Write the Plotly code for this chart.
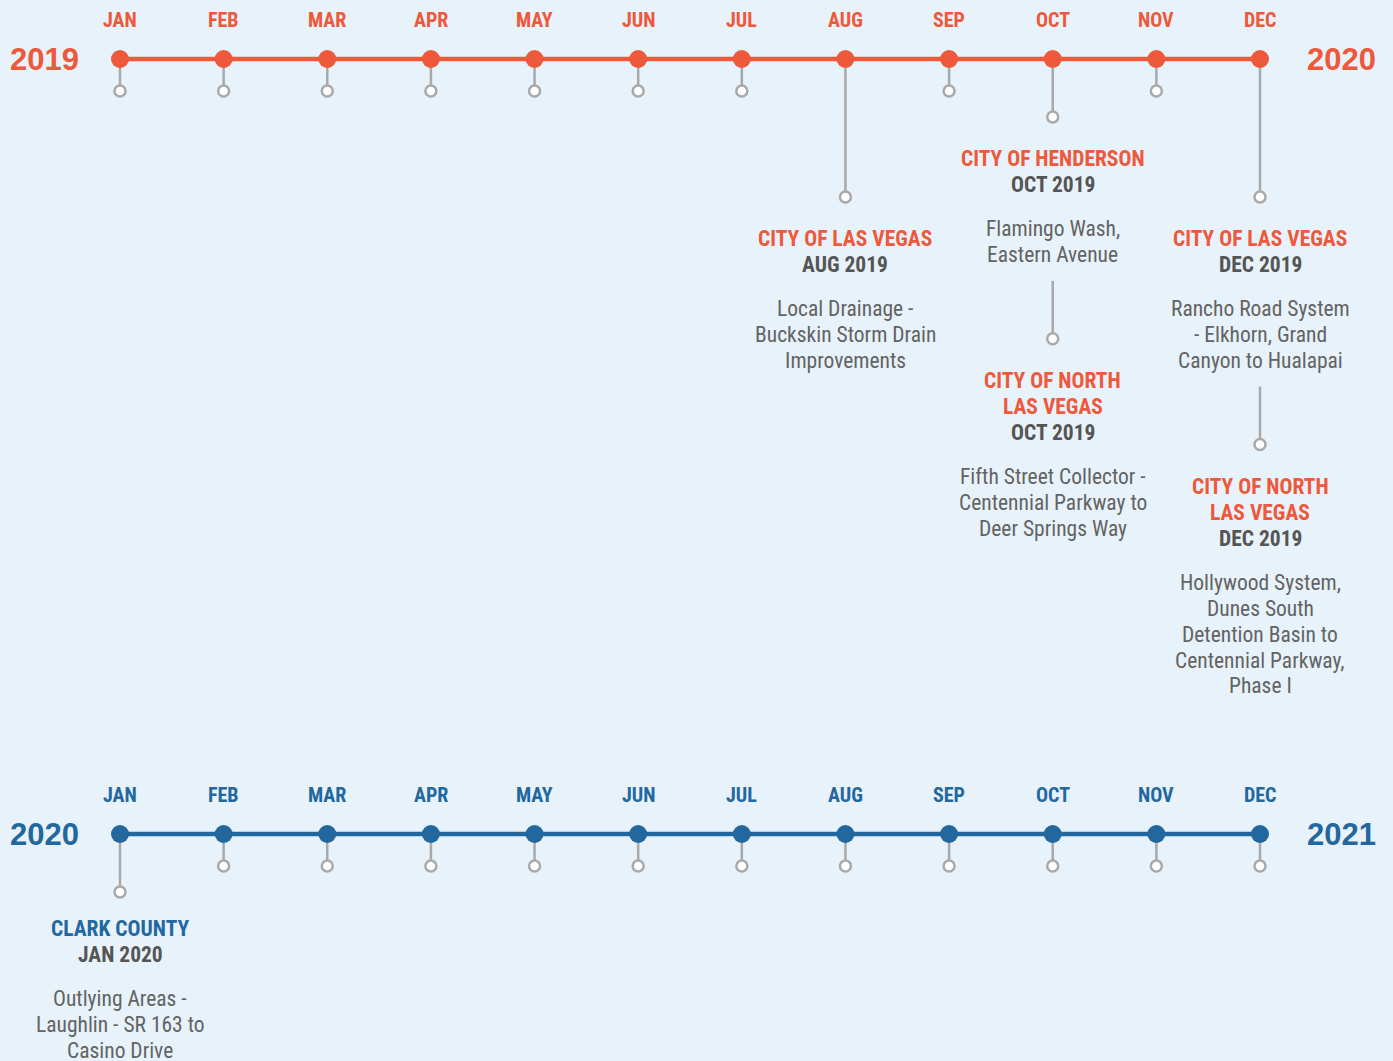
import plotly.graph_objects as go

# ---------------- data ----------------
months = ["JAN", "FEB", "MAR", "APR", "MAY", "JUN", "JUL", "AUG", "SEP", "OCT", "NOV", "DEC"]
start_years = ["2019", "2020"]
end_years = ["2020", "2021"]

event_timeline = [0, 0, 0, 0, 0, 1]
event_month = [7, 9, 9, 11, 11, 0]
event_agency = ["CITY OF LAS VEGAS", "CITY OF HENDERSON", "CITY OF NORTH<br>LAS VEGAS",
                "CITY OF LAS VEGAS", "CITY OF NORTH<br>LAS VEGAS", "CLARK COUNTY"]
event_date = ["AUG 2019", "OCT 2019", "OCT 2019", "DEC 2019", "DEC 2019", "JAN 2020"]
event_desc = [
    "Local Drainage -<br>Buckskin Storm Drain<br>Improvements",
    "Flamingo Wash,<br>Eastern Avenue",
    "Fifth Street Collector -<br>Centennial Parkway to<br>Deer Springs Way",
    "Rancho Road System<br>- Elkhorn, Grand<br>Canyon to Hualapai",
    "Hollywood System,<br>Dunes South<br>Detention Basin to<br>Centennial Parkway,<br>Phase I",
    "Outlying Areas -<br>Laughlin - SR 163 to<br>Casino Drive",
]

# ---------------- style / layout ----------------
W, H = 1393, 1061
BG = "#E7F2FA"
RED = "#EE583B"
BLUE = "#23679F"
GREY = "#A9A9A9"
DARK = "#555555"
DESC = "#636363"
COND = "Roboto Condensed, Liberation Sans Narrow, DejaVu Sans Condensed, Arial Narrow, sans-serif"
WIDE = "Liberation Sans, Arial, Helvetica, sans-serif"

tl_y = [59, 834]          # pixel rows of the two timelines
tl_color = [RED, BLUE]
label_dy = -39            # month label offset
short_stem = 32
# first-stem length per event month group (layout)
first_stem = {(0, 7): 138, (0, 9): 58, (0, 11): 138, (1, 0): 58}
title_gap = [41, 36]
TXT = 21.5

px_per_month = (1260 - 120) / 11
x0 = -120 / px_per_month
x1 = 11 + (W - 1260) / px_per_month

fig = go.Figure()
ann = []


def add_lines(m, first_y, step, text, size, color, bold):
    lines = text.split("<br>")
    for k, line in enumerate(lines):
        s = f"<b>{line}</b>" if bold else line
        ann.append(dict(x=m, y=first_y + step * k, text=s, showarrow=False,
                        font=dict(family=COND, size=size, color=color),
                        xanchor="center", yanchor="middle"))
    return first_y + step * (len(lines) - 1)


# events (stems drawn first so they sit under the timeline dots)
cursor = {}
ex, ey, ccx, ccy = [], [], [], []
for i in range(len(event_month)):
    t, m = event_timeline[i], event_month[i]
    col = tl_color[t]
    key = (t, m)
    if key not in cursor:
        top = tl_y[t]
        circ = top + first_stem[key]
        gap = title_gap[t]
    else:
        top = cursor[key] + 27
        circ = top + 58
        gap = 42
    ex += [m, m, None]
    ey += [top, circ, None]
    ccx.append(m)
    ccy.append(circ)
    title_last = add_lines(m, circ + gap, 25.5, event_agency[i], TXT, col, True)
    date_y = title_last + 26
    add_lines(m, date_y + 0.5, 26, event_date[i], TXT, DARK, True)
    desc_last = add_lines(m, date_y + 44.5, 25.8, event_desc[i], TXT, DESC, False)
    cursor[key] = desc_last - 0.5

fig.add_trace(go.Scatter(x=ex, y=ey, mode="lines", line=dict(color=GREY, width=2.5),
                         hoverinfo="skip", showlegend=False))
fig.add_trace(go.Scatter(x=ccx, y=ccy, mode="markers",
                         marker=dict(size=11, color="white", line=dict(color=GREY, width=2.5)),
                         hoverinfo="skip", showlegend=False))

for t in range(2):
    y = tl_y[t]
    col = tl_color[t]
    sx, sy, cx, cy = [], [], [], []
    for m in range(12):
        if (t, m) in first_stem:
            continue
        sx += [m, m, None]
        sy += [y, y + short_stem, None]
        cx.append(m)
        cy.append(y + short_stem)
    fig.add_trace(go.Scatter(x=sx, y=sy, mode="lines", line=dict(color=GREY, width=2.5),
                             hoverinfo="skip", showlegend=False))
    fig.add_trace(go.Scatter(x=cx, y=cy, mode="markers",
                             marker=dict(size=11, color="white", line=dict(color=GREY, width=2.5)),
                             hoverinfo="skip", showlegend=False))
    fig.add_trace(go.Scatter(x=list(range(12)), y=[y] * 12, mode="lines+markers",
                             line=dict(color=col, width=4.5),
                             marker=dict(size=18, color=col),
                             hoverinfo="skip", showlegend=False))
    for m, name in enumerate(months):
        ann.append(dict(x=m, y=y + label_dy, text=f"<b>{name}</b>", showarrow=False,
                        font=dict(family=COND, size=20, color=col), xanchor="center", yanchor="middle"))
    ann.append(dict(x=x0 + 44 / px_per_month, y=y, text=f"<b>{start_years[t]}</b>", showarrow=False,
                    font=dict(family=WIDE, size=31, color=col), xanchor="center", yanchor="middle"))
    ann.append(dict(x=11 + 81 / px_per_month, y=y, text=f"<b>{end_years[t]}</b>", showarrow=False,
                    font=dict(family=WIDE, size=31, color=col), xanchor="center", yanchor="middle"))

fig.update_layout(
    width=W, height=H, margin=dict(l=0, r=0, t=0, b=0),
    paper_bgcolor=BG, plot_bgcolor=BG,
    xaxis=dict(range=[x0, x1], visible=False, fixedrange=True),
    yaxis=dict(range=[H, 0], visible=False, fixedrange=True),
    annotations=ann, showlegend=False,
)
fig.write_html("out.html", config=dict(displayModeBar=False),
               post_script="document.body.style.margin='0';document.body.style.overflow='hidden';"
                           "document.body.style.background='%s';" % BG)
